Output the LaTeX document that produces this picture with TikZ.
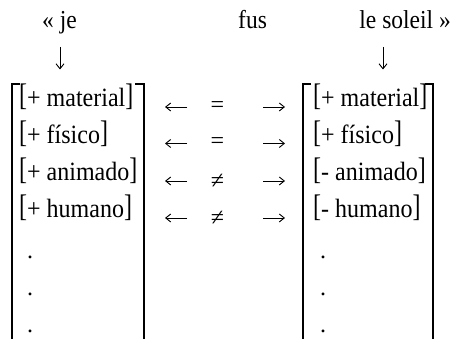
\documentclass[tikz,border=0pt]{standalone}
\usepackage{fontspec}
\setmainfont{Liberation Serif}
\usetikzlibrary{arrows.meta}
% slightly tall type, as in the printed example
\newcommand\tall[1]{\scalebox{1}[1.1]{#1}}
\newcommand\lbr{\raisebox{1.2pt}{\scalebox{1}[1.18]{[}}}
\newcommand\rbr{\raisebox{1.2pt}{\scalebox{1}[1.18]{]}}}
\begin{document}
\begin{tikzpicture}[x=1pt,y=-1pt,
  top/.style={inner sep=0pt,font=\fontsize{23.5}{24}\selectfont},
  feat/.style={inner sep=0pt,anchor=base west,font=\fontsize{24}{24}\selectfont},
  rel/.style={inner sep=0pt,anchor=center,font=\fontsize{24}{24}\selectfont},
  arr/.style={line width=0.9pt,-{Straight Barb[length=5pt,width=8pt]}},
  outer/.style={line width=1.5pt,line cap=butt}]
\useasboundingbox (0,0) rectangle (456,339);
% sentence
\node[top,anchor=base west] (je) at (42,29) {\tall{«~je}};
\node[top,anchor=base west] (fus) at (238,29) {\tall{fus}};
\node[top,anchor=base east] (soleil) at (451,29) {\tall{le soleil~»}};
\coordinate (dlS) at (60,47);  \coordinate (dlE) at (60,69.5);
\coordinate (drS) at (383,47); \coordinate (drE) at (383,69.5);
\draw[arr] (dlS) -- (dlE);
\draw[arr] (drS) -- (drE);
% left feature matrix
\draw[outer] (20,84) -- (12,84) -- (12,339);
\draw[outer] (135,84) -- (144,84) -- (144,339);
\node[feat] (l1) at (19,107) {\tall{\lbr+ material\rbr}};
\node[feat] (l2) at (19,144) {\tall{\lbr+ físico\rbr}};
\node[feat] (l3) at (19,181) {\tall{\lbr+ animado\rbr}};
\node[feat] (l4) at (19,218) {\tall{\lbr+ humano\rbr}};
\node[feat] (l5) at (27,258.5) {.};
\node[feat] (l6) at (27,295.5) {.};
\node[feat] (l7) at (27,332.5) {.};
% right feature matrix
\draw[outer] (311,84) -- (303,84) -- (303,339);
\draw[outer] (425,84) -- (433,84) -- (433,339);
\node[feat] (r1) at (313,107) {\tall{\lbr+ material\rbr}};
\node[feat] (r2) at (313,144) {\tall{\lbr+ físico\rbr}};
\node[feat] (r3) at (313,181) {\tall{\lbr- animado\rbr}};
\node[feat] (r4) at (313,218) {\tall{\lbr- humano\rbr}};
\node[feat] (r5) at (320,258.5) {.};
\node[feat] (r6) at (320,295.5) {.};
\node[feat] (r7) at (320,332.5) {.};
% comparisons between the two matrices
\foreach \y/\s [count=\i] in {107/=,143.5/=,181/≠,218/≠}{
  \coordinate (laS\i) at (187,\y); \coordinate (laE\i) at (165,\y);
  \coordinate (raS\i) at (263,\y); \coordinate (raE\i) at (285,\y);
  \draw[arr] (laS\i) -- (laE\i);
  \node[rel] (eq\i) at (217.5,\y) {\s};
  \draw[arr] (raS\i) -- (raE\i);
}
\end{tikzpicture}
\end{document}
